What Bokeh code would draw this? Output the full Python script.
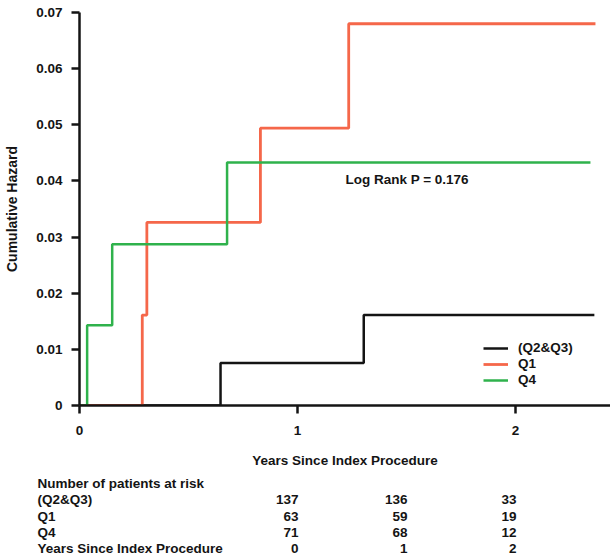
from bokeh.plotting import figure
from bokeh.models import Range1d, FixedTicker, Legend, LegendItem, Label, ColumnDataSource
from bokeh.embed import file_html
from bokeh.resources import INLINE
from bokeh.core.properties import value

FONT = "Liberation Sans"
INK = "#141414"

# ---- data ----
q23_t = [0, 0.647, 1.304, 2.362]
q23_h = [0, 0.00755, 0.0161, 0.0161]
q1_t = [0, 0.288, 0.309, 0.830, 1.235, 2.367]
q1_h = [0, 0.0161, 0.0326, 0.0494, 0.0680, 0.0680]
q4_t = [0, 0.035, 0.150, 0.677, 2.344]
q4_h = [0, 0.0143, 0.0287, 0.0433, 0.0433]

series_names = ["(Q2&Q3)", "Q1", "Q4"]
series_colors = ["#141414", "#f5674a", "#2fb24c"]

x_ticks = [0, 1, 2]
y_ticks = [0, 0.01, 0.02, 0.03, 0.04, 0.05, 0.06, 0.07]
y_tick_labels = ["0", "0.01", "0.02", "0.03", "0.04", "0.05", "0.06", "0.07"]

risk_title = "Number of patients at risk"
risk_years = [0, 1, 2]
risk_q23 = [137, 136, 33]
risk_q1 = [63, 59, 19]
risk_q4 = [71, 68, 12]
years_row_label = "Years Since Index Procedure"
log_rank_text = "Log Rank P = 0.176"

W = 610
H_MAIN = 475
H_TABLE = 84

# ---- main plot ----
p = figure(width=W, height=H_MAIN, x_range=Range1d(0, 2.436), y_range=Range1d(0, 0.07),
           output_backend="svg", toolbar_location=None,
           min_border_left=79, min_border_right=0, min_border_top=12, min_border_bottom=70)
p.outline_line_color = None
p.grid.visible = False
p.background_fill_color = "white"

r23 = p.step(q23_t, q23_h, mode="after", line_color=series_colors[0], line_width=2.5)
r1 = p.step(q1_t, q1_h, mode="after", line_color=series_colors[1], line_width=2.8)
r4 = p.step(q4_t, q4_h, mode="after", line_color=series_colors[2], line_width=2.5)

for ax in (p.xaxis[0], p.yaxis[0]):
    ax.axis_line_width = 2.5
    ax.axis_line_color = INK
    ax.major_tick_line_width = 2.5
    ax.major_tick_line_color = INK
    ax.major_tick_in = 0
    ax.major_tick_out = 8
    ax.minor_tick_in = 0
    ax.minor_tick_out = 0
    ax.major_label_text_font = FONT
    ax.major_label_text_font_style = "bold"
    ax.major_label_text_font_size = "13.5px"
    ax.major_label_text_color = INK
    ax.axis_label_text_font = FONT
    ax.axis_label_text_font_style = "bold"
    ax.axis_label_text_color = INK

p.xaxis.ticker = FixedTicker(ticks=x_ticks)
p.xaxis.major_label_standoff = 12
p.xaxis.axis_label = "Years Since Index Procedure"
p.xaxis.axis_label_text_font_size = "13.5px"
p.xaxis.axis_label_standoff = 15

p.yaxis.ticker = FixedTicker(ticks=y_ticks)
p.yaxis.major_label_overrides = {t: l for t, l in zip(y_ticks, y_tick_labels)}
p.yaxis.major_label_standoff = 9
p.yaxis.axis_label = "Cumulative Hazard"
p.yaxis.axis_label_text_font_size = "14px"
p.yaxis.axis_label_standoff = 13

legend = Legend(items=[LegendItem(label=n, renderers=[r]) for n, r in zip(series_names, [r23, r1, r4])],
                location=(404, 18), padding=0, margin=0, spacing=1,
                glyph_width=25, glyph_height=14, label_height=14, label_standoff=10,
                border_line_color=None, background_fill_alpha=0,
                label_text_font=FONT, label_text_font_style="bold",
                label_text_font_size="13.5px", label_text_color=INK)
p.add_layout(legend, "center")

p.add_layout(Label(x=1.22, y=0.0403, text=log_rank_text, text_baseline="middle",
                   text_font=FONT, text_font_style="bold", text_font_size="13.5px",
                   text_color=INK))

# ---- risk table ----
px_per_year = 109.0
col0_right = 298.0
row_px = 16.25
row_top = 8.0
t = figure(width=W, height=H_TABLE,
           x_range=Range1d(-col0_right / px_per_year, (W - col0_right) / px_per_year),
           y_range=Range1d((H_TABLE - row_top) / row_px, -row_top / row_px),
           output_backend="svg", toolbar_location=None,
           x_axis_location=None, y_axis_location=None, min_border=0)
t.outline_line_color = None
t.grid.visible = False

row_labels = [risk_title] + series_names + [years_row_label]
lab_src = ColumnDataSource(dict(x=[t.x_range.start] * len(row_labels),
                                y=list(range(len(row_labels))), text=row_labels))
t.text("x", "y", "text", source=lab_src, x_offset=37, text_align="left", text_baseline="middle",
       text_font=value(FONT), text_font_style="bold", text_font_size="13.5px", text_color=INK)

nx, ny, nt = [], [], []
for row, vals in enumerate([risk_q23, risk_q1, risk_q4, risk_years], start=1):
    for yr, v in zip(risk_years, vals):
        nx.append(yr)
        ny.append(row)
        nt.append(str(v))
num_src = ColumnDataSource(dict(x=nx, y=ny, text=nt))
t.text("x", "y", "text", source=num_src, text_align="right", text_baseline="middle",
       text_font=value(FONT), text_font_style="bold", text_font_size="13.5px", text_color=INK)

open("out.html", "w").write(file_html([p, t], INLINE))
